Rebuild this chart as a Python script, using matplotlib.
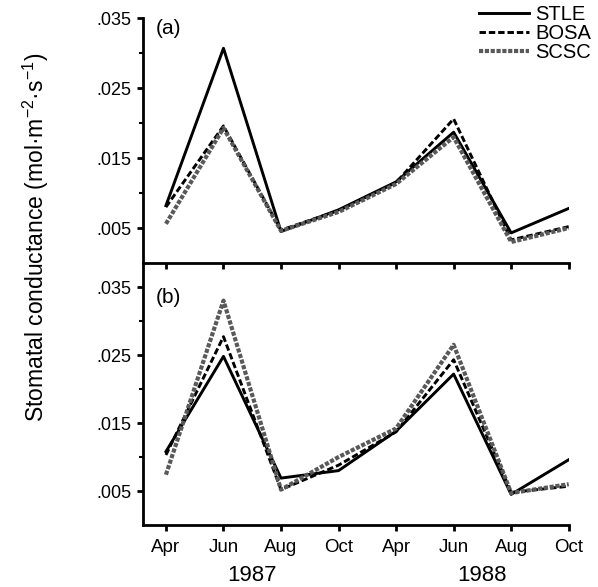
import matplotlib
matplotlib.use("Agg")
import matplotlib.pyplot as plt
import numpy as np
from matplotlib.ticker import FixedLocator
import matplotlib.transforms as mtransforms

plt.rcParams['font.family'] = ['Liberation Sans', 'DejaVu Sans']
plt.rcParams['mathtext.fontset'] = 'custom'
plt.rcParams['mathtext.rm'] = 'Liberation Sans'
plt.rcParams['mathtext.it'] = 'Liberation Sans'

months = ["Apr", "Jun", "Aug", "Oct", "Apr", "Jun", "Aug", "Oct"]
years = ["1987", "1988"]
series = ["STLE", "BOSA", "SCSC"]

# panel (a)
stle_a = [0.0082, 0.0307, 0.0045, 0.0076, 0.0116, 0.0187, 0.0043, 0.0078]
bosa_a = [0.0080, 0.0196, 0.0047, 0.0075, 0.0115, 0.0206, 0.0033, 0.0052]
scsc_a = [0.0056, 0.0193, 0.0046, 0.0073, 0.0113, 0.0180, 0.0030, 0.0050]

# panel (b)
stle_b = [0.0108, 0.0248, 0.0069, 0.0080, 0.0138, 0.0222, 0.0045, 0.0096]
bosa_b = [0.0103, 0.0277, 0.0052, 0.0088, 0.0137, 0.0243, 0.0048, 0.0057]
scsc_b = [0.0074, 0.0330, 0.0052, 0.0100, 0.0142, 0.0265, 0.0047, 0.0060]

styles = {
    "STLE": dict(color="black", lw=2.1, ls="-"),
    "BOSA": dict(color="black", lw=2.1, ls=(0, (2.2, 1.0))),
    "SCSC": dict(color="0.35", lw=3.0, ls=(0, (1.0, 0.4))),
}

fig = plt.figure(figsize=(5.98, 5.87), dpi=100)
ax_b = fig.add_axes([0.239, 0.1056, 0.712, 0.446])
ax_a = fig.add_axes([0.239, 0.552, 0.712, 0.417])
ax_b.patch.set_visible(False)
ax_a.patch.set_visible(False)

x = np.arange(len(months))
data = {ax_a: [stle_a, bosa_a, scsc_a], ax_b: [stle_b, bosa_b, scsc_b]}

for ax, vals in data.items():
    for name, v in zip(series, vals):
        ax.plot(x, v, label=name, **styles[name])
    ax.set_xlim(-0.4, 7.0)
    ax.yaxis.set_major_locator(FixedLocator([0.005, 0.015, 0.025, 0.035]))
    ax.yaxis.set_minor_locator(FixedLocator([0.010, 0.020, 0.030]))
    ax.yaxis.set_major_formatter(plt.FuncFormatter(lambda v, p: ("%.3f" % v)[1:]))
    ax.set_xticks(x)
    for s in ["top", "right"]:
        ax.spines[s].set_visible(False)
    for s in ["left", "bottom"]:
        ax.spines[s].set_linewidth(2.0)
    ax.tick_params(axis="both", which="major", direction="out", length=4, width=2)
    ax.tick_params(axis="y", which="major", labelsize=13, pad=4)
    ax.tick_params(axis="x", which="major", labelsize=13.5, pad=6)
    ax.tick_params(axis="y", which="minor", direction="out", length=3, width=1.5)

ax_a.set_ylim(0, 0.035)
ax_b.set_ylim(0, 0.0385)
ax_a.set_xticklabels([])
ax_b.set_xticklabels(months)

ax_a.text(-0.17, 0.0335, "(a)", fontsize=15, va="center")
ax_b.text(-0.17, 0.0335, "(b)", fontsize=15, va="center")

trans = mtransforms.blended_transform_factory(ax_b.transData, fig.transFigure)
ax_b.text(1.5, 0.019, years[0], transform=trans, ha="center", va="center", fontsize=16)
ax_b.text(5.5, 0.019, years[1], transform=trans, ha="center", va="center", fontsize=16)

fig.text(0.06, 0.595, "Stomatal conductance (mol·m$^{-2}$·s$^{-1}$)", rotation=90,
         ha="center", va="center", fontsize=16.5)

handles, labels = ax_a.get_legend_handles_labels()
fig.legend(handles, labels, loc="upper right", bbox_to_anchor=(1.005, 1.008), frameon=False,
           fontsize=14.5, handlelength=2.5, handletextpad=0.3, labelspacing=0.0,
           borderaxespad=0.1)

fig.savefig("out.png", dpi=100)
